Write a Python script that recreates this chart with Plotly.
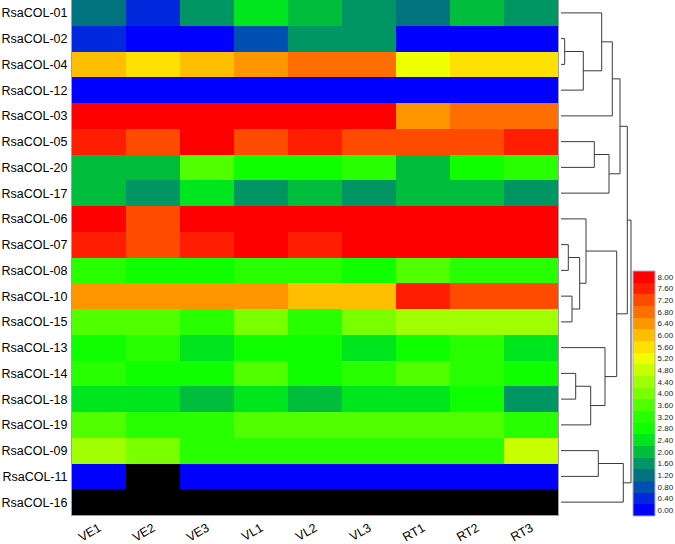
import plotly.graph_objects as go

# ---------------- data ----------------
genes = ["RsaCOL-01", "RsaCOL-02", "RsaCOL-04", "RsaCOL-12", "RsaCOL-03",
         "RsaCOL-05", "RsaCOL-20", "RsaCOL-17", "RsaCOL-06", "RsaCOL-07",
         "RsaCOL-08", "RsaCOL-10", "RsaCOL-15", "RsaCOL-13", "RsaCOL-14",
         "RsaCOL-18", "RsaCOL-19", "RsaCOL-09", "RsaCOL-11", "RsaCOL-16"]
samples = ["VE1", "VE2", "VE3", "VL1", "VL2", "VL3", "RT1", "RT2", "RT3"]

N = None
col01 = [1.2, 0.4, 1.6, 2.4, 2.0, 1.6, 1.2, 2.0, 1.6]
col02 = [0.4, 0.0, 0.0, 0.8, 1.6, 1.6, 0.0, 0.0, 0.0]
col04 = [6.0, 5.6, 6.0, 6.4, 6.8, 6.8, 5.2, 5.6, 5.6]
col12 = [0.0, 0.0, 0.0, 0.0, 0.0, 0.0, 0.0, 0.0, 0.0]
col03 = [8.0, 8.0, 8.0, 8.0, 8.0, 8.0, 6.4, 6.8, 6.8]
col05 = [7.6, 7.2, 8.0, 7.2, 7.6, 7.2, 7.2, 7.2, 7.6]
col20 = [2.0, 2.0, 3.6, 2.8, 2.8, 3.2, 2.0, 2.8, 3.2]
col17 = [2.0, 1.6, 2.4, 1.6, 2.0, 1.6, 2.0, 2.0, 1.6]
col06 = [8.0, 7.2, 8.0, 8.0, 8.0, 8.0, 8.0, 8.0, 8.0]
col07 = [7.6, 7.2, 7.6, 8.0, 7.6, 8.0, 8.0, 8.0, 8.0]
col08 = [3.2, 2.8, 2.8, 3.2, 3.2, 2.8, 3.6, 3.2, 3.2]
col10 = [6.4, 6.4, 6.4, 6.4, 6.0, 6.0, 7.6, 7.2, 7.2]
col15 = [3.6, 3.6, 3.2, 4.0, 3.2, 4.0, 4.4, 4.4, 4.4]
col13 = [2.8, 3.2, 2.4, 2.8, 2.8, 2.4, 2.8, 3.2, 2.4]
col14 = [3.2, 2.8, 2.8, 3.6, 2.8, 3.2, 3.6, 3.2, 2.8]
col18 = [2.4, 2.4, 2.0, 2.4, 2.0, 2.4, 2.4, 2.8, 1.6]
col19 = [3.6, 3.2, 3.2, 3.6, 3.6, 3.6, 3.6, 3.6, 3.2]
col09 = [4.4, 4.0, 3.2, 3.2, 3.2, 3.2, 3.2, 3.2, 4.8]
col11 = [0.0, N, 0.0, 0.0, 0.0, 0.0, 0.0, 0.0, 0.0]
col16 = [N, N, N, N, N, N, N, N, N]

values = [col01, col02, col04, col12, col03, col05, col20, col17, col06, col07,
          col08, col10, col15, col13, col14, col18, col19, col09, col11, col16]

# colour legend ticks (0.00 .. 8.00 in steps of 0.4)
legend_ticks = [round(0.4 * i, 2) for i in range(21)]
legend_labels = ["%.2f" % v for v in legend_ticks]
legend_colors = ["#0000ff", "#0028dc", "#0050b4", "#00737f", "#009664",
                 "#00be3c", "#00e61e", "#0fff00", "#28ff00", "#50ff00",
                 "#78ff00", "#a0ff00", "#c8ff00", "#f0ff00", "#ffe100",
                 "#ffbe00", "#ff9600", "#ff6e00", "#ff4b00", "#ff1e00",
                 "#ff0000"]

# hierarchical clustering of rows: (child A, child B, merge distance)
merges = [
    ("RsaCOL-02", "RsaCOL-04", 3.7),   # m0
    ("m0", "RsaCOL-12", 22.3),         # m1
    ("RsaCOL-01", "m1", 40.7),         # m2
    ("m2", "RsaCOL-03", 51.3),         # m3
    ("RsaCOL-05", "RsaCOL-20", 33.3),  # m4
    ("m4", "RsaCOL-17", 48.0),         # m5
    ("m3", "m5", 59.0),                # m6
    ("RsaCOL-07", "RsaCOL-08", 7.3),   # m7
    ("RsaCOL-10", "RsaCOL-15", 11.0),  # m8
    ("m7", "m8", 18.7),                # m9
    ("RsaCOL-06", "m9", 25.0),         # m10
    ("RsaCOL-14", "RsaCOL-18", 14.7),  # m11
    ("m11", "RsaCOL-19", 29.7),        # m12
    ("RsaCOL-13", "m12", 44.0),        # m13
    ("m10", "m13", 55.7),              # m14
    ("m6", "m14", 66.3),               # m15
    ("RsaCOL-09", "RsaCOL-11", 37.3),  # m16
    ("m16", "RsaCOL-16", 62.3),        # m17
    ("m15", "m17", 70.0),              # m18
]

# ---------------- build ----------------
ncol = len(legend_colors)
colorscale = []
for i, c in enumerate(legend_colors):
    colorscale.append([i / ncol, c])
    colorscale.append([(i + 1) / ncol, c])

FONT = "Arial, 'Liberation Sans', sans-serif"

fig = go.Figure()

fig.add_trace(go.Heatmap(
    z=values,
    x=list(range(len(samples))),
    y=list(range(len(genes))),
    colorscale=colorscale,
    zmin=-0.2, zmax=8.2,
    hoverongaps=False,
    colorbar=dict(
        tickvals=legend_ticks, ticktext=legend_labels,
        ticks="", ticklen=0, thickness=22, thicknessmode="pixels",
        len=245, lenmode="pixels",
        x=(633 - 72) / 603, xanchor="left", xref="paper",
        y=(515 - 393.5) / 515, yanchor="middle",
        xpad=0, ypad=0, outlinecolor="#b0b0b0", outlinewidth=1,
        tickfont=dict(family=FONT, size=8, color="#222"),
        ticklabelposition="outside",
    ),
))

# dendrogram lines
pos = {g: (float(i), 0.0) for i, g in enumerate(genes)}
lx, ly = [], []
for k, (a, b, h) in enumerate(merges):
    ya, ha = pos[a]
    yb, hb = pos[b]
    lx += [ha, h, h, hb, None]
    ly += [ya, ya, yb, yb, None]
    pos["m%d" % k] = ((ya + yb) / 2.0, h)

fig.add_trace(go.Scatter(
    x=lx, y=ly, xaxis="x2", yaxis="y", mode="lines",
    line=dict(color="#3a3a3a", width=1), hoverinfo="skip", showlegend=False,
))

fig.update_layout(
    width=675, height=544,
    margin=dict(l=72, r=0, t=0, b=29, autoexpand=False),
    paper_bgcolor="white", plot_bgcolor="white",
    showlegend=False,
    xaxis=dict(
        domain=[0, 486 / 603], range=[-0.5, len(samples) - 0.5],
        tickvals=list(range(len(samples))), ticktext=samples,
        tickangle=-30, ticks="", showgrid=False, zeroline=False,
        showline=True, linecolor="#a0a0a0", linewidth=1, mirror=True,
        tickfont=dict(family=FONT, size=12.5, color="black"),
        automargin=False, ticklabelstandoff=0,
    ),
    yaxis=dict(
        range=[len(genes) - 0.5, -0.5],
        tickvals=list(range(len(genes))), ticktext=genes,
        ticks="", showgrid=False, zeroline=False,
        showline=True, linecolor="#a0a0a0", linewidth=1, mirror=True,
        tickfont=dict(family=FONT, size=12.5, color="black"),
        automargin=False, ticklabelstandoff=1,
    ),
    xaxis2=dict(
        domain=[489 / 603, 561 / 603], range=[0, 72], anchor="y",
        visible=False, showgrid=False, zeroline=False,
    ),
    shapes=[dict(type="rect", xref="x domain", yref="y domain",
                 x0=0, x1=1, y0=0, y1=1, fillcolor="black",
                 line=dict(width=0), layer="below")],
)

fig.write_html(
    "out.html",
    config={"displayModeBar": False},
    post_script="document.body.style.margin='0';document.body.style.overflow='hidden';",
)
